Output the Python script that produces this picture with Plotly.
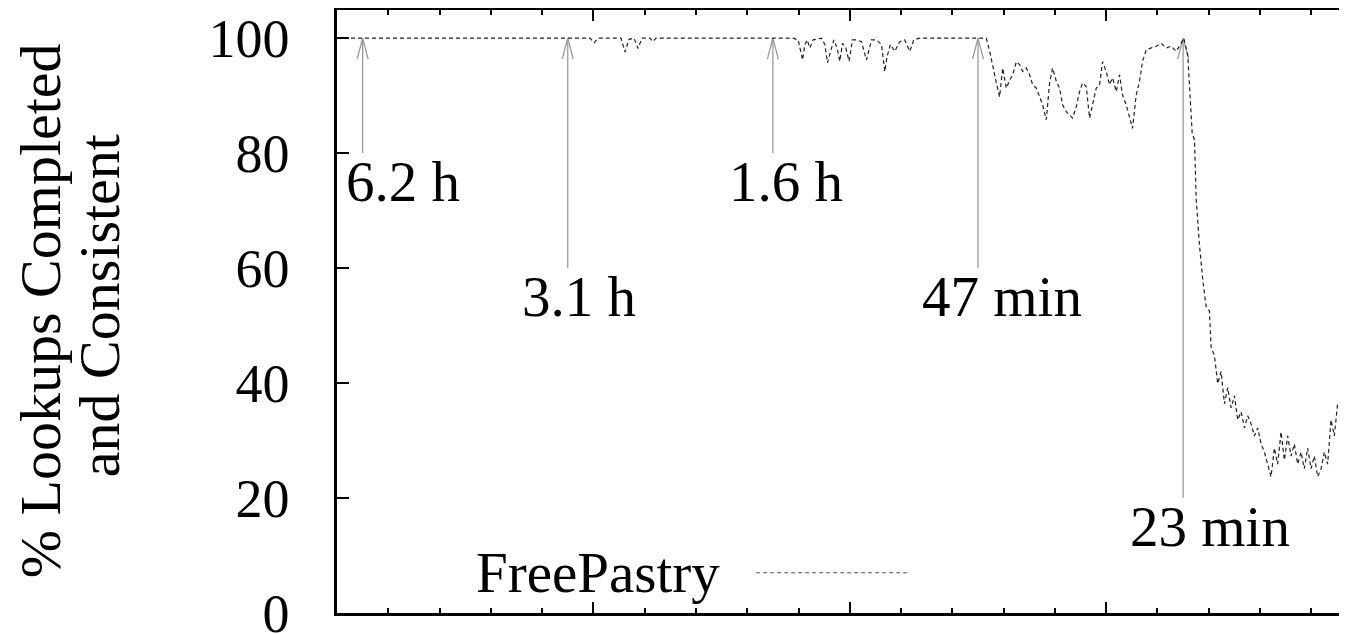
import plotly.graph_objects as go

# ---------------- data ----------------
series_x = [
    0.0, 4.935, 5.013, 5.091, 5.539, 5.617, 5.695, 5.792, 5.870, 5.948, 6.104, 6.162, 6.221,
    8.895, 8.993, 9.079, 9.124, 9.168, 9.221, 9.285, 9.449, 9.513, 9.566, 9.624, 9.688,
    9.753, 9.805, 9.858, 9.922, 9.986, 10.053, 10.131, 10.228, 10.325, 10.423, 10.520,
    10.618, 10.682, 10.727, 10.793, 10.877, 10.974, 11.071, 11.169, 11.247, 11.364, 12.663,
    12.728, 12.786, 12.858, 12.922, 12.981, 13.053, 13.117, 13.176, 13.248, 13.312, 13.370,
    13.442, 13.507, 13.565, 13.637, 13.702, 13.760, 13.832, 13.896, 13.955, 14.027, 14.091,
    14.150, 14.222, 14.286, 14.345, 14.417, 14.481, 14.539, 14.611, 14.676, 14.734, 14.806,
    14.871, 14.929, 15.001, 15.065, 15.124, 15.196, 15.260, 15.319, 15.391, 15.455, 15.513,
    15.585, 15.650, 15.708, 15.780, 15.878, 15.975, 16.073, 16.170, 16.267, 16.365, 16.462,
    16.513, 16.591, 16.638, 16.677, 16.722, 16.755, 16.819, 16.883, 16.949, 17.014, 17.046,
    17.111, 17.175, 17.241, 17.306, 17.370, 17.436, 17.501, 17.565, 17.631, 17.696, 17.760,
    17.826, 17.890, 17.955, 18.021, 18.085, 18.150, 18.215, 18.280, 18.344, 18.410, 18.475,
    18.539, 18.605, 18.669, 18.734, 18.800, 18.864, 18.929, 18.995, 19.059, 19.124, 19.190,
    19.254, 19.318, 19.384, 19.449, 19.513, 19.579, 19.643,
]
series_y = [
    100, 100, 99.2, 100, 100, 97.6, 99.8, 100, 98.2, 100, 100, 99.4, 100,
    100, 99.7, 96.2, 98.9, 99.7, 98.3, 99.7, 100, 98.9, 95.7, 97.7, 99.7,
    98.3, 96.0, 99.1, 98.3, 96.0, 99.7, 99.7, 99.4, 96.2, 99.7, 99.7,
    98.9, 94.2, 96.8, 98.9, 97.7, 99.4, 99.7, 97.7, 99.7, 100, 100,
    97.7, 95.0, 92.2, 89.8, 94.8, 91.3, 92.7, 93.6, 95.9, 95.4, 94.2,
    94.8, 93.6, 91.9, 91.3, 89.8, 88.4, 85.8, 92.2, 94.8, 92.5, 91.3,
    88.4, 87.2, 86.7, 86.1, 88.1, 90.7, 92.2, 91.6, 86.1, 88.4, 91.3,
    91.9, 95.9, 94.2, 91.9, 93.1, 90.7, 93.6, 90.1, 88.4, 86.4, 84.3,
    90.1, 92.5, 95.9, 98.0, 98.3, 98.6, 99.1, 98.3, 98.6, 97.7, 99.1,
    100, 97.0, 90.0, 83.5, 82.3, 72.0, 64.0, 58.0, 53.3, 52.5, 46.2,
    44.8, 39.9, 42.0, 36.4, 39.2, 35.7, 37.8, 33.6, 35.0, 32.2, 34.3,
    32.9, 30.8, 32.2, 29.4, 28.0, 25.9, 23.7, 28.7, 25.9, 31.5, 26.6,
    30.8, 27.3, 29.4, 25.9, 28.0, 25.1, 28.7, 25.1, 27.3, 23.7, 25.1,
    28.0, 25.9, 33.6, 30.8, 36.4, 36.4, 42.0,
]
series_name = "FreePastry"

arrow_x = [0.5, 4.5, 8.5, 12.5, 16.5]
arrow_tail = [80, 60, 80, 60, 20]
arrow_head = [100, 100, 100, 100, 100]
arrow_labels = ["6.2 h", "3.1 h", "1.6 h", "47 min", "23 min"]
label_x = [0.13, 3.57, 7.60, 11.36, 15.42]

y_ticks = [0, 20, 40, 60, 80, 100]
y_title_lines = ["% Lookups Completed", "and Consistent"]

# ---------------- style / layout ----------------
FONT = "Liberation Serif"
OFF = 8                      # default page body margin
PL, PR, PT, PB = 336.7, 1347.0, 10.0, 613.3   # plot box in page pixels
W, H = 1347 - OFF, 634 - OFF
ML, MR, MT, MB = PL - OFF, 0, PT - OFF, H - (PB - OFF)
X_MAX = 19.696
Y_MAX = 104.9
HEAD_DX, HEAD_DY = 0.107, 3.65
LABEL_DROP = 4.9


def px_to_paper_x(px):
    return (px - PL) / (PR - PL)


def py_to_paper_y(py):
    return (PB - py) / (PB - PT)


fig = go.Figure()

# arrows (gray vertical lines with open V heads)
ax_, ay_ = [], []
for x, t, h in zip(arrow_x, arrow_tail, arrow_head):
    ax_ += [x, x, None, x - HEAD_DX, x, x + HEAD_DX, None]
    ay_ += [t, h, None, h - HEAD_DY, h, h - HEAD_DY, None]
fig.add_trace(go.Scatter(x=ax_, y=ay_, mode="lines",
                         line=dict(color="#9a9a9a", width=1.3),
                         hoverinfo="skip", showlegend=False))

# data line
fig.add_trace(go.Scatter(x=series_x, y=series_y, mode="lines", name=series_name,
                         line=dict(color="#222222", width=1.2, dash="4px,3px"),
                         showlegend=False))

# arrow labels
for lx, t, txt in zip(label_x, arrow_tail, arrow_labels):
    fig.add_annotation(x=lx, y=t - LABEL_DROP, text=txt, showarrow=False,
                       xanchor="left", yanchor="middle",
                       font=dict(family=FONT, size=57, color="black"))

# y-axis title (two rotated lines)
for cx, cy, txt in zip([40, 99], [311, 306], y_title_lines):
    fig.add_annotation(xref="paper", yref="paper",
                       x=px_to_paper_x(cx), y=py_to_paper_y(cy),
                       text=txt, textangle=-90, showarrow=False,
                       xanchor="center", yanchor="middle",
                       font=dict(family=FONT, size=58, color="black"))

# legend (text left, line sample right)
fig.add_annotation(xref="paper", yref="paper",
                   x=px_to_paper_x(722), y=py_to_paper_y(573),
                   text=series_name, showarrow=False,
                   xanchor="right", yanchor="middle",
                   font=dict(family=FONT, size=57, color="black"))
fig.add_shape(type="line", xref="paper", yref="paper",
              x0=px_to_paper_x(756), x1=px_to_paper_x(908),
              y0=py_to_paper_y(573), y1=py_to_paper_y(573),
              line=dict(color="#555555", width=1.1, dash="4px,3px"))

fig.update_layout(
    width=W, height=H,
    margin=dict(l=ML, r=MR, t=MT, b=MB, pad=0, autoexpand=False),
    paper_bgcolor="white", plot_bgcolor="white",
    showlegend=False,
    font=dict(family=FONT, color="black"),
    xaxis=dict(range=[0, X_MAX], showgrid=False, zeroline=False, automargin=False,
               showline=True, linecolor="black", linewidth=2.5, mirror="allticks",
               ticks="inside", tick0=0, dtick=5, ticklen=11, tickwidth=2,
               tickcolor="black", showticklabels=False,
               minor=dict(dtick=1, ticks="inside", ticklen=5, tickwidth=1.5,
                          tickcolor="black", showgrid=False)),
    yaxis=dict(range=[0, Y_MAX], showgrid=False, zeroline=False, automargin=False,
               showline=True, linecolor="black", linewidth=2.5, mirror=False,
               ticks="inside", tickvals=y_ticks, ticklen=12, tickwidth=2,
               tickcolor="black", ticklabelstandoff=34, ticklabeloverflow="allow",
               tickfont=dict(family=FONT, size=54, color="black")),
)

fig.write_html("out.html")
